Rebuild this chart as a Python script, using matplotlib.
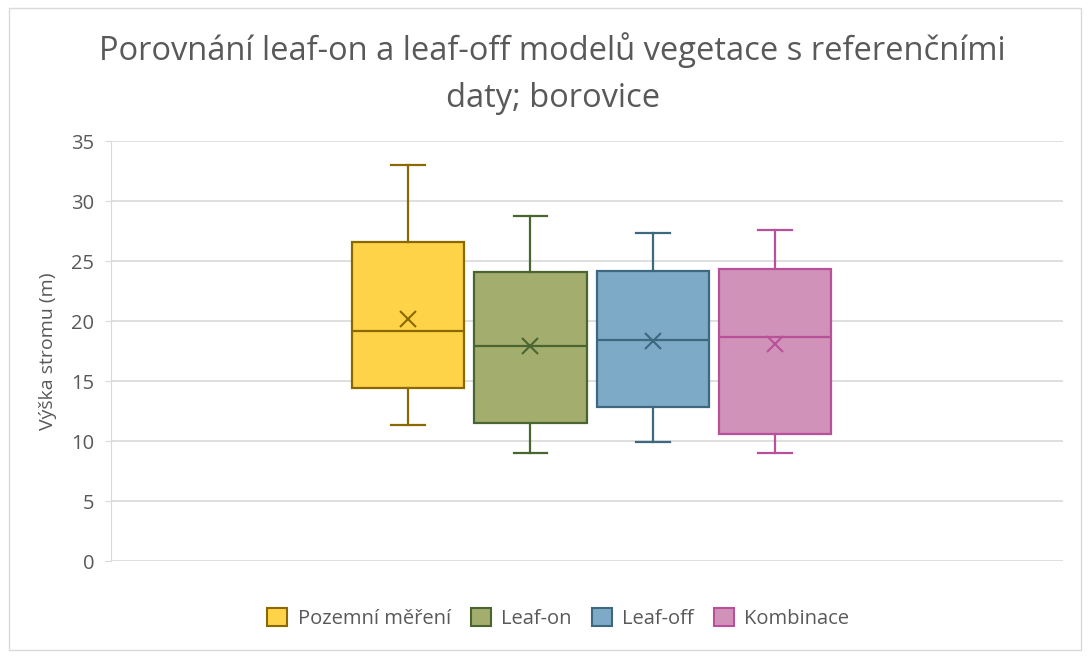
import matplotlib.pyplot as plt
from matplotlib.patches import Patch, Rectangle

plt.rcParams['font.family'] = ['Open Sans', 'DejaVu Sans']

# values (m)
labels = ['Pozemní měření', 'Leaf-on', 'Leaf-off', 'Kombinace']
whislo = [11.3, 9.0, 9.9, 9.0]
q1 = [14.4, 11.5, 12.8, 10.55]
med = [19.2, 17.95, 18.45, 18.65]
mean = [20.2, 17.95, 18.3, 18.05]
q3 = [26.55, 24.05, 24.15, 24.35]
whishi = [33.0, 28.75, 27.35, 27.55]

fills = ['#FFD347', '#A2AD6E', '#7DAAC6', '#D192BA']
edges = ['#8A6A00', '#4B6530', '#3E687F', '#B8509A']

fig = plt.figure(figsize=(10.9, 6.58), dpi=100)
ax = fig.add_axes([0.1018, 0.1474, 0.8732, 0.6383])

# faint border round the chart area
fig.patches.append(Rectangle((0.008, 0.012), 0.984, 0.976, transform=fig.transFigure,
                             fill=False, edgecolor='#D9D9D9', linewidth=1))

gap = 0.1285
width = 0.118
positions = [0.505 + (i - 1.5) * gap for i in range(len(labels))]

for i in range(len(labels)):
    st = dict(whislo=whislo[i], q1=q1[i], med=med[i], mean=mean[i],
              q3=q3[i], whishi=whishi[i], fliers=[], label=labels[i])
    ec = edges[i]
    ax.bxp([st], positions=[positions[i]], widths=width, capwidths=width * 0.3,
           showmeans=True, patch_artist=True, manage_ticks=False,
           boxprops=dict(facecolor=fills[i], edgecolor=ec, linewidth=1.6),
           medianprops=dict(color=ec, linewidth=1.6),
           whiskerprops=dict(color=ec, linewidth=1.6),
           capprops=dict(color=ec, linewidth=1.6),
           meanprops=dict(marker='x', markeredgecolor=ec, markersize=12,
                          markeredgewidth=1.5))

ax.set_xlim(0, 1)
ax.set_ylim(0, 35)
ax.set_yticks(range(0, 36, 5))
ax.set_xticks([])
ax.yaxis.grid(True, color='#D9D9D9', linewidth=1.2)
ax.set_axisbelow(True)
for s in ['top', 'right', 'bottom']:
    ax.spines[s].set_visible(False)
ax.spines['left'].set_color('#D9D9D9')
ax.tick_params(axis='y', colors='#D9D9D9', labelcolor='#595959', labelsize=14.5,
               length=4, pad=8)
ax.set_ylabel('Výška stromu (m)', color='#595959', fontsize=14, labelpad=10)

fig.text(0.507, 0.888, 'Porovnání leaf-on a leaf-off modelů vegetace s referenčními\ndaty; borovice',
         color='#595959', fontsize=23.5, ha='center', va='center', linespacing=1.55)

handles = [Patch(facecolor=fills[i], edgecolor=edges[i], linewidth=1.5, label=labels[i])
           for i in range(len(labels))]
leg = fig.legend(handles=handles, loc='center', bbox_to_anchor=(0.512, 0.06), ncol=4,
                 frameon=False, fontsize=14.5, handlelength=1.0, handleheight=1.0,
                 handletextpad=0.5, columnspacing=1.0)
for t in leg.get_texts():
    t.set_color('#595959')

fig.savefig('out.png', dpi=100)
